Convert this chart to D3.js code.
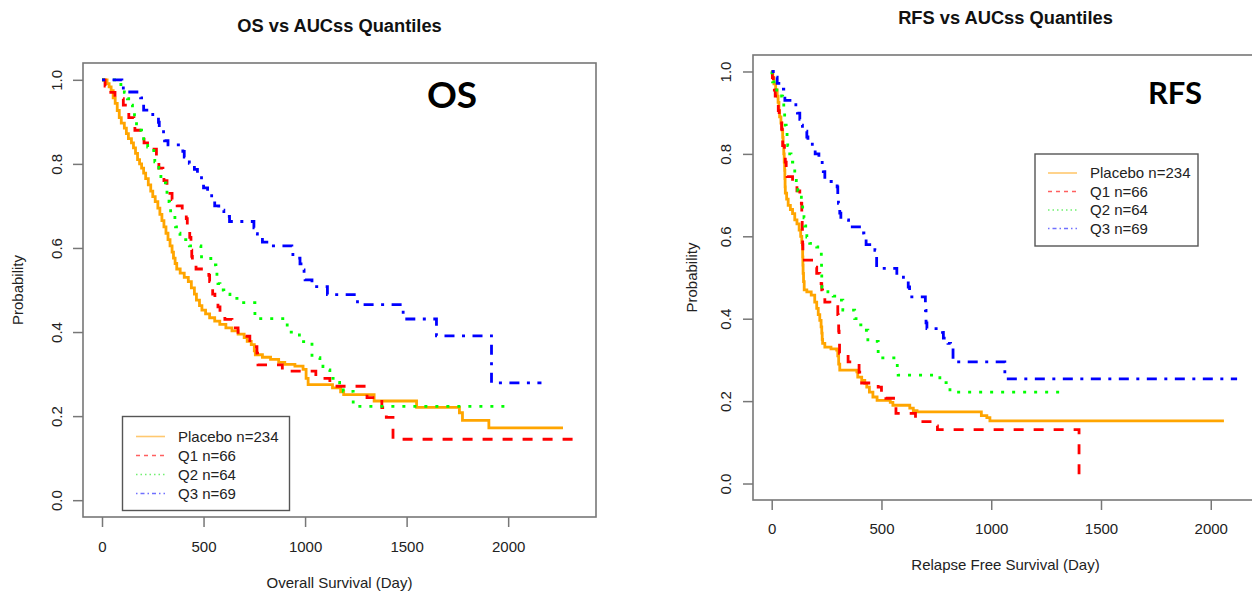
<!DOCTYPE html>
<html>
<head>
<meta charset="utf-8">
<script src="https://cdn.jsdelivr.net/npm/d3@7"></script>
<style>
  body { margin: 0; background: #fff; }
  svg { display: block; font-family: "Liberation Sans", Arial, sans-serif; }
</style>
</head>
<body>
<svg id="chart" width="1252" height="592"></svg>
<script>
// ---- data -------------------------------------------------------------
const groups = ["Placebo n=234", "Q1 n=66", "Q2 n=64", "Q3 n=69"];
const xTicks = [0, 500, 1000, 1500, 2000];
const yTicks = [0, 0.2, 0.4, 0.6, 0.8, 1.0];
const osTimeMax = 2339;
const rfsTimeMax = 2130;

// Kaplan-Meier step points: [day, survival probability]
const osPlacebo = [[0,1],[25,0.991],[35,0.983],[45,0.974],[55,0.957],[65,0.944],[75,0.927],[85,0.91],[95,0.897],[110,0.885],[120,0.872],[130,0.86],[145,0.85],[155,0.838],[165,0.825],[175,0.81],[185,0.8],[195,0.79],[205,0.778],[215,0.765],[228,0.75],[240,0.735],[250,0.722],[262,0.71],[275,0.695],[285,0.68],[295,0.665],[305,0.65],[315,0.635],[325,0.62],[335,0.605],[345,0.59],[352,0.576],[360,0.563],[368,0.55],[385,0.54],[405,0.53],[425,0.52],[440,0.505],[455,0.49],[465,0.476],[480,0.463],[492,0.452],[510,0.443],[530,0.434],[555,0.426],[580,0.418],[610,0.41],[640,0.403],[670,0.395],[700,0.387],[715,0.378],[735,0.37],[750,0.355],[755,0.346],[790,0.34],[830,0.335],[870,0.328],[900,0.323],[950,0.319],[990,0.311],[1005,0.29],[1015,0.275],[1135,0.267],[1175,0.258],[1190,0.251],[1340,0.236],[1549,0.221],[1760,0.208],[1775,0.19],[1905,0.172],[2270,0.172]];
const osQ1 = [[0,1],[15,0.985],[25,0.97],[64,0.955],[105,0.94],[128,0.925],[132,0.91],[157,0.895],[162,0.88],[200,0.865],[207,0.85],[240,0.835],[268,0.82],[275,0.805],[280,0.79],[300,0.775],[305,0.76],[320,0.745],[325,0.73],[345,0.715],[370,0.7],[395,0.685],[415,0.67],[420,0.655],[428,0.64],[432,0.625],[438,0.61],[440,0.595],[442,0.58],[445,0.565],[463,0.55],[526,0.535],[530,0.52],[541,0.505],[545,0.49],[556,0.475],[571,0.46],[581,0.445],[605,0.43],[640,0.41],[670,0.39],[728,0.375],[740,0.365],[763,0.35],[766,0.335],[768,0.322],[888,0.307],[1053,0.29],[1122,0.271],[1305,0.244],[1378,0.22],[1400,0.197],[1433,0.145],[2339,0.145]];
const osQ2 = [[0,1],[93,0.985],[110,0.97],[125,0.955],[140,0.94],[150,0.93],[160,0.91],[170,0.895],[180,0.88],[195,0.865],[205,0.85],[225,0.84],[255,0.82],[260,0.805],[280,0.79],[285,0.775],[290,0.755],[315,0.74],[320,0.725],[330,0.71],[333,0.695],[338,0.68],[359,0.665],[362,0.65],[379,0.635],[384,0.62],[430,0.605],[487,0.59],[490,0.575],[536,0.56],[561,0.545],[566,0.53],[571,0.515],[581,0.5],[600,0.49],[630,0.48],[680,0.47],[753,0.432],[912,0.4],[972,0.377],[1034,0.339],[1073,0.33],[1088,0.318],[1107,0.31],[1122,0.3],[1137,0.29],[1157,0.28],[1170,0.27],[1188,0.259],[1237,0.223],[2008,0.223]];
const osQ3 = [[0,1],[98,0.986],[105,0.971],[190,0.957],[195,0.942],[205,0.928],[250,0.913],[278,0.899],[282,0.884],[303,0.87],[308,0.855],[325,0.845],[398,0.83],[405,0.816],[430,0.801],[455,0.787],[470,0.772],[490,0.758],[500,0.743],[520,0.729],[540,0.714],[555,0.7],[575,0.69],[600,0.675],[628,0.663],[748,0.648],[752,0.634],[765,0.624],[790,0.614],[822,0.605],[935,0.59],[940,0.576],[975,0.562],[980,0.548],[995,0.533],[1000,0.524],[1034,0.508],[1110,0.489],[1258,0.465],[1483,0.431],[1647,0.391],[1918,0.279],[2164,0.279]];

const rfsPlacebo = [[0,1],[5,0.985],[10,0.97],[18,0.955],[25,0.94],[29,0.925],[33,0.905],[36,0.89],[42,0.875],[47,0.858],[50,0.84],[52,0.82],[55,0.8],[57,0.78],[59,0.76],[60,0.74],[61,0.72],[62,0.705],[68,0.69],[75,0.675],[85,0.665],[95,0.655],[105,0.64],[115,0.63],[125,0.615],[132,0.6],[137,0.585],[140,0.57],[141,0.55],[142,0.53],[143,0.51],[145,0.49],[148,0.47],[160,0.465],[180,0.457],[196,0.44],[205,0.425],[212,0.41],[219,0.396],[225,0.38],[228,0.365],[230,0.35],[232,0.34],[242,0.331],[270,0.327],[296,0.324],[301,0.31],[305,0.29],[310,0.275],[388,0.271],[392,0.258],[410,0.25],[424,0.243],[433,0.234],[445,0.222],[461,0.21],[480,0.202],[540,0.197],[552,0.19],[629,0.183],[645,0.177],[662,0.174],[955,0.165],[980,0.16],[994,0.152],[2060,0.152]];
const rfsQ1 = [[0,1],[3,0.985],[7,0.97],[12,0.955],[16,0.94],[25,0.925],[30,0.905],[34,0.89],[38,0.875],[45,0.86],[48,0.84],[50,0.82],[58,0.8],[62,0.78],[66,0.76],[70,0.745],[95,0.73],[115,0.71],[128,0.695],[135,0.68],[137,0.66],[138,0.64],[139,0.62],[140,0.6],[141,0.58],[142,0.542],[196,0.525],[205,0.51],[219,0.5],[225,0.485],[228,0.47],[232,0.455],[242,0.44],[265,0.429],[301,0.41],[303,0.39],[305,0.37],[307,0.35],[309,0.316],[348,0.295],[398,0.27],[401,0.244],[485,0.234],[500,0.222],[520,0.207],[562,0.19],[566,0.17],[655,0.15],[748,0.14],[755,0.131],[1400,0]];
const rfsQ2 = [[0,1],[1,0.985],[4,0.975],[23,0.955],[45,0.94],[50,0.925],[55,0.905],[59,0.89],[62,0.87],[66,0.855],[70,0.84],[73,0.82],[82,0.8],[88,0.78],[96,0.765],[105,0.745],[112,0.73],[119,0.71],[128,0.695],[135,0.68],[141,0.665],[147,0.645],[150,0.625],[155,0.61],[160,0.598],[173,0.583],[205,0.574],[219,0.56],[226,0.54],[227,0.52],[228,0.5],[229,0.477],[256,0.465],[280,0.455],[310,0.445],[324,0.421],[378,0.4],[395,0.385],[424,0.372],[438,0.345],[485,0.305],[572,0.28],[576,0.263],[766,0.245],[812,0.222],[1320,0.222]];
const rfsQ3 = [[0,1],[20,0.986],[25,0.971],[45,0.957],[55,0.943],[60,0.93],[110,0.913],[117,0.899],[128,0.884],[135,0.87],[140,0.855],[160,0.841],[165,0.83],[185,0.816],[198,0.8],[215,0.785],[230,0.771],[235,0.757],[242,0.733],[298,0.72],[301,0.7],[304,0.68],[310,0.656],[315,0.64],[350,0.623],[410,0.608],[420,0.594],[430,0.58],[470,0.566],[475,0.551],[478,0.522],[570,0.506],[600,0.494],[622,0.477],[628,0.465],[638,0.453],[700,0.42],[703,0.39],[707,0.376],[778,0.367],[782,0.353],[803,0.34],[815,0.324],[826,0.295],[1062,0.254],[2120,0.254]];

// ---- styling ----------------------------------------------------------
const colors = ["#FFA500", "#FF0000", "#00FF00", "#0000FF"];
const keyColors = ["#FFC870", "#FF6060", "#70F070", "#7070FF"];
const curveDash = [null, "10,10", "3,8", "3,7.5,10,7.5"];
const keyDash = [null, "4,4", "1.5,3", "1.5,3,4,3"];
const frameColor = "#777";
const textColor = "#222";

const panels = [
  {
    title: "OS vs AUCss Quantiles", tag: "OS", xLabel: "Overall Survival (Day)",
    series: [osPlacebo, osQ1, osQ2, osQ3], tmax: osTimeMax,
    box: { left: 83, right: 596, top: 63, bottom: 517 },
    titleY: 31.5, tag_: { x: 452, y: 108, size: 37 },
    xLabelY: 588, yLabelX: 23, yTickOff: 21, xTickOff: 34.5,
    legend: { x: 122.5, y: 416.5, w: 167, h: 94, rowTop: 436.5, rowStep: 19, lineX: 136, lineW: 29, textX: 178 }
  },
  {
    title: "RFS vs AUCss Quantiles", tag: "RFS", xLabel: "Relapse Free Survival (Day)",
    series: [rfsPlacebo, rfsQ1, rfsQ2, rfsQ3], tmax: rfsTimeMax,
    box: { left: 753, right: 1258, top: 55, bottom: 500 },
    titleY: 24.3, tag_: { x: 1175, y: 104, size: 31 },
    xLabelY: 570, yLabelX: 697, yTickOff: 22, xTickOff: 33.5,
    legend: { x: 1035, y: 154, w: 163, h: 92, rowTop: 173, rowStep: 18.5, lineX: 1048, lineW: 29, textX: 1090 }
  }
];

const svg = d3.select("#chart");
svg.append("rect").attr("width", 1252).attr("height", 592).attr("fill", "#fff");

panels.forEach(p => {
  const b = p.box;
  const x = d3.scaleLinear().domain([-0.04 * p.tmax, 1.04 * p.tmax]).range([b.left, b.right]);
  const y = d3.scaleLinear().domain([-0.04, 1.04]).range([b.bottom, b.top]);
  const g = svg.append("g");
  const cx = (b.left + b.right) / 2;
  const cy = (b.top + b.bottom) / 2;

  // title
  g.append("text").attr("x", cx).attr("y", p.titleY)
    .attr("text-anchor", "middle").attr("font-weight", "bold")
    .attr("font-size", 18.3).attr("fill", "#111").text(p.title);

  // x axis
  const xa = g.append("g").attr("transform", `translate(0,${b.bottom})`)
    .call(d3.axisBottom(x).tickValues(xTicks).tickSize(10).tickFormat(d3.format("d")));
  xa.select(".domain").remove();
  xa.selectAll(".tick line").attr("stroke", frameColor).attr("stroke-width", 1.5);
  xa.selectAll(".tick text").attr("y", p.xTickOff).attr("dy", 0)
    .attr("font-size", 15).attr("fill", textColor).attr("font-family", "Liberation Sans, Arial, sans-serif");

  // y axis (labels parallel to the axis)
  const ya = g.append("g").attr("transform", `translate(${b.left},0)`)
    .call(d3.axisLeft(y).tickValues(yTicks).tickSize(10).tickFormat(d3.format(".1f")));
  ya.select(".domain").remove();
  ya.selectAll(".tick line").attr("stroke", frameColor).attr("stroke-width", 1.5);
  ya.selectAll(".tick text").attr("x", 0).attr("dy", 0)
    .attr("transform", `translate(${-p.yTickOff},0) rotate(-90)`)
    .attr("text-anchor", "middle").attr("font-size", 15).attr("fill", textColor)
    .attr("font-family", "Liberation Sans, Arial, sans-serif");

  // axis titles
  g.append("text").attr("x", cx).attr("y", p.xLabelY).attr("text-anchor", "middle")
    .attr("font-size", 15).attr("fill", textColor).text(p.xLabel);
  g.append("text").attr("transform", `translate(${p.yLabelX},${cy}) rotate(-90)`)
    .attr("text-anchor", "middle").attr("font-size", 15).attr("fill", textColor).text("Probability");

  // survival curves
  const line = d3.line().x(d => x(d[0])).y(d => y(d[1])).curve(d3.curveStepAfter);
  p.series.forEach((s, i) => {
    g.append("path").datum(s).attr("d", line)
      .attr("fill", "none").attr("stroke", colors[i]).attr("stroke-width", 2.8)
      .attr("stroke-dasharray", curveDash[i]);
  });

  // plot frame
  g.append("rect").attr("x", b.left).attr("y", b.top)
    .attr("width", b.right - b.left).attr("height", b.bottom - b.top)
    .attr("fill", "none").attr("stroke", frameColor).attr("stroke-width", 1.6);

  // panel tag
  g.append("text").attr("x", p.tag_.x).attr("y", p.tag_.y).attr("text-anchor", "middle")
    .attr("font-family", "Lato, 'Open Sans', sans-serif").attr("font-weight", "bold")
    .attr("font-size", p.tag_.size).attr("fill", "#000").text(p.tag);

  // legend
  const L = p.legend;
  const lg = g.append("g");
  lg.append("rect").attr("x", L.x).attr("y", L.y).attr("width", L.w).attr("height", L.h)
    .attr("fill", "#fff").attr("stroke", "#555").attr("stroke-width", 1.4);
  groups.forEach((name, i) => {
    const ry = L.rowTop + i * L.rowStep;
    lg.append("path")
      .attr("d", d3.line()([[L.lineX, ry], [L.lineX + L.lineW, ry]]))
      .attr("fill", "none").attr("stroke", keyColors[i]).attr("stroke-width", 1.6)
      .attr("stroke-dasharray", keyDash[i]);
    lg.append("text").attr("x", L.textX).attr("y", ry + 5.3)
      .attr("font-size", 15).attr("fill", textColor).text(name);
  });
});
</script>
</body>
</html>
